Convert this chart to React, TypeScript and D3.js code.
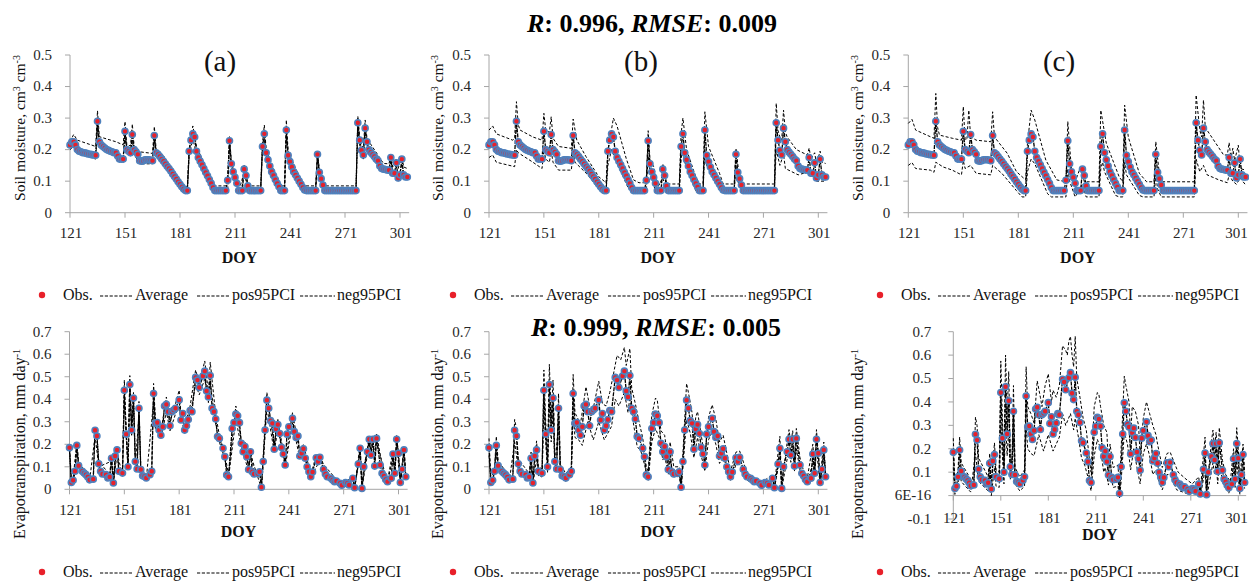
import React from 'react';
import * as d3 from 'd3';

type Pt = [number, number];

// ---------------- DATA ----------------
const START_DOY = 121;
const xTicks = [121, 151, 181, 211, 241, 271, 301];
const smTicks = [0, 0.1, 0.2, 0.3, 0.4, 0.5];
const smTickLabels = ['0', '0.1', '0.2', '0.3', '0.4', '0.5'];
const etTicks = [0, 0.1, 0.2, 0.3, 0.4, 0.5, 0.6, 0.7];
const etTickLabels = ['0', '0.1', '0.2', '0.3', '0.4', '0.5', '0.6', '0.7'];
const etTicksF = [-0.1, 0, 0.1, 0.2, 0.3, 0.4, 0.5, 0.6, 0.7];
const etTickLabelsF = ['-0.1', '6E-16', '0.1', '0.2', '0.3', '0.4', '0.5', '0.6', '0.7'];
const legendLabels = ['Obs.', 'Average', 'pos95PCI', 'neg95PCI'];
const panelLabels = ['(a)', '(b)', '(c)'];

// Observed soil moisture, DOY 121..305 (daily)
const smObs: number[] = [
  0.215, 0.225, 0.225, 0.215, 0.2, 0.195, 0.193, 0.19, 0.19, 0.188,
  0.186, 0.185, 0.184, 0.183, 0.182, 0.29, 0.225, 0.215, 0.21, 0.205,
  0.2, 0.198, 0.195, 0.193, 0.19, 0.19, 0.18, 0.17, 0.17, 0.17,
  0.258, 0.2, 0.195, 0.19, 0.248, 0.2, 0.193, 0.185, 0.165, 0.163,
  0.165, 0.168, 0.168, 0.168, 0.167, 0.165, 0.245, 0.19, 0.185, 0.178,
  0.17, 0.163, 0.155, 0.147, 0.14, 0.132, 0.123, 0.115, 0.107, 0.098,
  0.09, 0.082, 0.075, 0.07, 0.07, 0.195, 0.23, 0.25, 0.24, 0.195,
  0.175, 0.163, 0.152, 0.14, 0.128, 0.117, 0.105, 0.093, 0.08, 0.07,
  0.07, 0.07, 0.07, 0.07, 0.07, 0.07, 0.103, 0.228, 0.155, 0.13,
  0.112, 0.093, 0.07, 0.07, 0.07, 0.138, 0.118, 0.085, 0.07, 0.07,
  0.07, 0.07, 0.07, 0.07, 0.07, 0.21, 0.25, 0.19, 0.168, 0.148,
  0.13, 0.118, 0.105, 0.093, 0.082, 0.07, 0.07, 0.07, 0.262, 0.182,
  0.162, 0.145, 0.13, 0.12, 0.11, 0.1, 0.09, 0.08, 0.072, 0.07,
  0.07, 0.07, 0.07, 0.07, 0.07, 0.185, 0.128, 0.108, 0.088, 0.07,
  0.07, 0.07, 0.07, 0.07, 0.07, 0.07, 0.07, 0.07, 0.07, 0.07,
  0.07, 0.07, 0.07, 0.07, 0.07, 0.07, 0.07, 0.285, 0.23, 0.198,
  0.183, 0.268, 0.225, 0.2, 0.192, 0.185, 0.178, 0.17, 0.165, 0.148,
  0.14, 0.138, 0.137, 0.135, 0.135, 0.175, 0.125, 0.125, 0.158, 0.11,
  0.12, 0.17, 0.12, 0.113, 0.113,
];

const smPosA: Pt[] = [[121,.225],[123,.248],[125,.23],[135,.21],[136,.323],[137,.241],[146,.225],[150,.215],[151,.289],[152,.215],[154,.212],[155,.281],[156,.209],[159,.193],[166,.188],[167,.273],[168,.2],[172,.18],[181,.098],[184,.083],[185,.083],[186,.2],[188,.275],[190,.21],[199,.093],[200,.085],[206,.085],[207,.11],[208,.241],[209,.165],[212,.1],[213,.085],[215,.085],[216,.15],[217,.125],[218,.09],[219,.085],[225,.085],[226,.22],[227,.278],[228,.2],[235,.093],[236,.085],[238,.085],[239,.294],[240,.193],[248,.09],[249,.085],[255,.085],[256,.193],[257,.135],[259,.095],[260,.085],[277,.085],[278,.306],[279,.24],[280,.215],[281,.205],[282,.294],[283,.235],[292,.156],[295,.155],[296,.185],[297,.145],[299,.17],[300,.14],[302,.18],[303,.145],[305,.14]];
const smNegA: Pt[] = [[121,.2],[123,.21],[125,.19],[135,.17],[136,.27],[137,.21],[146,.18],[150,.16],[151,.24],[152,.19],[154,.18],[155,.23],[156,.185],[159,.155],[166,.155],[167,.23],[168,.18],[183,.068],[185,.068],[186,.18],[188,.235],[190,.185],[199,.068],[207,.068],[208,.21],[209,.145],[213,.068],[216,.128],[218,.075],[219,.068],[225,.068],[226,.2],[227,.235],[228,.18],[236,.068],[238,.068],[239,.245],[240,.17],[249,.068],[255,.068],[256,.175],[257,.12],[260,.068],[277,.068],[278,.265],[279,.215],[281,.17],[282,.25],[283,.21],[290,.135],[295,.125],[296,.16],[297,.115],[299,.145],[300,.1],[302,.155],[303,.11],[305,.105]];
const smPosB: Pt[] = [[121,.262],[123,.275],[125,.25],[134,.23],[135,.235],[136,.352],[137,.278],[138,.262],[145,.24],[150,.23],[151,.315],[152,.262],[154,.255],[155,.304],[156,.236],[159,.21],[166,.204],[167,.297],[169,.23],[174,.178],[181,.114],[185,.095],[186,.2],[187,.23],[189,.3],[191,.275],[196,.172],[200,.104],[203,.095],[207,.095],[208,.26],[209,.17],[211,.146],[213,.091],[215,.091],[216,.155],[217,.13],[218,.095],[219,.091],[225,.091],[226,.25],[227,.3],[229,.2],[234,.114],[236,.091],[238,.091],[239,.32],[241,.21],[247,.125],[249,.091],[255,.091],[256,.204],[258,.104],[260,.091],[277,.091],[278,.347],[279,.26],[280,.24],[281,.23],[282,.325],[283,.255],[284,.24],[289,.2],[295,.183],[296,.205],[297,.17],[299,.19],[300,.155],[302,.195],[303,.16],[305,.156]];
const smNegB: Pt[] = [[121,.175],[123,.183],[125,.16],[135,.146],[136,.2],[137,.19],[145,.16],[150,.14],[151,.2],[152,.17],[154,.16],[155,.195],[156,.16],[159,.135],[166,.135],[167,.19],[168,.16],[175,.12],[181,.075],[183,.068],[185,.068],[186,.15],[188,.2],[190,.17],[197,.08],[199,.068],[207,.068],[208,.18],[209,.13],[212,.068],[216,.11],[218,.068],[225,.068],[226,.17],[227,.2],[228,.16],[234,.07],[238,.068],[239,.2],[240,.15],[247,.075],[249,.068],[255,.068],[256,.15],[257,.1],[259,.068],[277,.068],[278,.2],[280,.15],[282,.185],[283,.14],[290,.12],[296,.13],[300,.1],[305,.1]];
const smPosC: Pt[] = [[121,.283],[123,.296],[125,.262],[133,.241],[135,.236],[136,.378],[137,.27],[138,.246],[145,.236],[150,.23],[151,.336],[152,.23],[153,.235],[154,.325],[155,.241],[158,.23],[166,.225],[167,.32],[168,.24],[175,.188],[180,.13],[185,.104],[186,.22],[188,.325],[190,.294],[196,.167],[202,.104],[207,.098],[208,.289],[210,.135],[212,.098],[215,.146],[217,.098],[225,.098],[226,.325],[229,.22],[236,.114],[238,.098],[239,.341],[241,.24],[247,.125],[251,.098],[255,.098],[256,.225],[258,.12],[260,.098],[277,.098],[278,.373],[280,.262],[281,.24],[282,.357],[283,.27],[293,.183],[295,.183],[296,.222],[297,.17],[298,.204],[299,.165],[301,.214],[302,.14],[305,.135]];
const smNegC: Pt[] = [[121,.15],[123,.159],[125,.14],[133,.135],[135,.128],[136,.16],[140,.145],[145,.135],[150,.12],[151,.165],[152,.14],[155,.15],[158,.125],[166,.12],[167,.15],[168,.145],[172,.125],[180,.07],[183,.05],[185,.05],[186,.13],[188,.17],[190,.155],[197,.06],[199,.05],[207,.05],[208,.14],[209,.1],[212,.05],[216,.09],[218,.05],[225,.05],[226,.14],[227,.16],[228,.13],[234,.055],[236,.05],[238,.05],[239,.16],[240,.12],[247,.055],[249,.05],[255,.05],[256,.12],[257,.075],[259,.05],[277,.05],[278,.17],[280,.13],[282,.15],[284,.12],[290,.105],[295,.095],[296,.12],[298,.1],[300,.09],[302,.11],[305,.088]];

// Observed evapotranspiration [DOY, value]
const etObs: Pt[] = [[121,.185],[122,.03],[123,.04],[124,.08],[125,.195],[126,.105],[128,.08],[129,.072],[130,.065],[131,.055],[132,.042],[134,.045],[135,.262],[136,.237],[137,.113],[138,.08],[139,.068],[141,.065],[142,.05],[143,.055],[144,.138],[145,.028],[146,.148],[147,.175],[148,.08],[150,.072],[151,.44],[152,.245],[153,.1],[154,.465],[155,.263],[156,.405],[157,.123],[158,.09],[159,.36],[160,.088],[161,.06],[162,.057],[163,.05],[165,.065],[166,.08],[167,.425],[168,.293],[169,.297],[170,.263],[171,.24],[172,.278],[173,.37],[174,.377],[175,.345],[176,.282],[177,.345],[178,.352],[179,.36],[181,.397],[182,.308],[183,.337],[184,.263],[185,.282],[186,.31],[187,.35],[188,.345],[190,.497],[191,.485],[192,.452],[194,.503],[195,.525],[196,.437],[197,.41],[198,.505],[199,.36],[200,.345],[201,.312],[202,.234],[203,.226],[205,.182],[206,.145],[207,.064],[208,.056],[210,.27],[211,.296],[212,.334],[213,.327],[214,.296],[215,.204],[216,.167],[217,.19],[218,.145],[219,.088],[220,.167],[221,.078],[222,.068],[224,.07],[225,.078],[226,.009],[227,.123],[228,.263],[229,.396],[230,.36],[231,.305],[232,.293],[233,.178],[234,.268],[235,.288],[236,.248],[237,.186],[238,.157],[239,.108],[240,.245],[241,.278],[243,.315],[244,.256],[245,.23],[246,.237],[247,.148],[248,.16],[249,.18],[250,.138],[251,.1],[252,.078],[253,.056],[254,.077],[256,.14],[257,.123],[258,.142],[260,.089],[261,.068],[262,.056],[264,.049],[265,.041],[266,.034],[267,.037],[269,.027],[270,.018],[272,.03],[273,.027],[274,.019],[276,.049],[277,.007],[279,.112],[280,.182],[281,.004],[282,.1],[284,.167],[285,.222],[286,.152],[287,.222],[288,.103],[289,.226],[291,.108],[292,.071],[293,.059],[294,.044],[295,.034],[297,.049],[298,.157],[299,.071],[300,.222],[301,.16],[302,.03],[303,.089],[304,.175],[305,.056]];

const etPosD: Pt[] = [[121,.2],[122,.04],[123,.05],[125,.21],[126,.12],[132,.05],[134,.055],[135,.275],[136,.25],[137,.125],[143,.065],[144,.15],[145,.035],[147,.19],[148,.09],[150,.08],[151,.485],[152,.27],[153,.11],[154,.505],[155,.29],[156,.43],[157,.135],[158,.1],[159,.39],[160,.1],[163,.06],[166,.09],[167,.47],[168,.31],[171,.255],[174,.41],[176,.3],[179,.38],[181,.44],[182,.33],[184,.28],[187,.37],[190,.53],[192,.47],[195,.57],[197,.43],[198,.565],[201,.33],[203,.24],[206,.155],[208,.065],[212,.37],[215,.215],[217,.21],[219,.095],[220,.18],[222,.075],[225,.085],[226,.015],[229,.43],[233,.19],[235,.31],[239,.115],[243,.34],[247,.16],[249,.2],[253,.065],[256,.15],[258,.155],[262,.06],[270,.025],[276,.055],[277,.01],[280,.2],[281,.01],[285,.24],[286,.17],[287,.235],[288,.115],[289,.245],[293,.065],[295,.04],[298,.17],[299,.08],[300,.24],[302,.04],[304,.19],[305,.06]];
const etNegD: Pt[] = [[121,.17],[122,.025],[124,.07],[125,.18],[126,.095],[132,.038],[135,.24],[137,.1],[144,.125],[145,.022],[147,.16],[150,.065],[151,.41],[153,.09],[154,.43],[155,.24],[156,.375],[157,.11],[159,.33],[160,.08],[163,.045],[167,.39],[168,.27],[171,.225],[174,.345],[176,.26],[179,.335],[181,.365],[184,.245],[187,.33],[190,.465],[192,.42],[195,.49],[197,.385],[198,.47],[201,.29],[203,.21],[206,.135],[208,.05],[212,.31],[215,.19],[219,.08],[220,.155],[226,.005],[229,.365],[233,.165],[235,.27],[239,.1],[243,.295],[247,.135],[249,.165],[253,.05],[258,.13],[270,.015],[277,.005],[280,.165],[281,.003],[285,.205],[286,.14],[289,.21],[295,.03],[298,.145],[299,.065],[300,.205],[302,.025],[304,.16],[305,.05]];
const etPosE: Pt[] = [[121,.226],[122,.045],[124,.09],[125,.235],[126,.125],[132,.06],[134,.06],[135,.31],[136,.27],[137,.135],[143,.07],[144,.165],[145,.045],[147,.215],[148,.1],[150,.09],[151,.53],[152,.3],[153,.13],[154,.555],[155,.32],[156,.485],[157,.15],[158,.11],[159,.425],[160,.11],[163,.07],[166,.1],[167,.51],[168,.34],[171,.29],[174,.455],[176,.37],[178,.36],[181,.48],[183,.38],[185,.37],[187,.43],[189,.51],[191,.595],[193,.575],[195,.63],[196,.55],[198,.625],[199,.45],[201,.38],[203,.3],[205,.23],[207,.1],[208,.08],[210,.33],[212,.405],[213,.395],[215,.26],[217,.24],[219,.12],[220,.21],[222,.1],[225,.1],[226,.02],[227,.16],[229,.47],[230,.43],[232,.34],[233,.22],[234,.32],[235,.345],[237,.24],[239,.14],[241,.32],[243,.375],[245,.31],[247,.21],[249,.24],[251,.16],[253,.08],[256,.165],[258,.17],[262,.075],[266,.05],[270,.03],[276,.065],[277,.015],[280,.235],[281,.015],[284,.21],[285,.265],[286,.2],[287,.26],[288,.14],[289,.27],[291,.14],[293,.08],[295,.05],[298,.2],[299,.1],[300,.265],[302,.05],[304,.21],[305,.07]];
const etNegE: Pt[] = [[121,.15],[122,.02],[124,.065],[125,.16],[126,.085],[132,.03],[135,.21],[137,.09],[143,.04],[144,.11],[145,.015],[147,.14],[148,.06],[150,.055],[151,.35],[153,.075],[154,.38],[155,.21],[156,.33],[157,.095],[159,.29],[160,.07],[163,.035],[166,.06],[167,.34],[168,.23],[170,.22],[172,.195],[175,.3],[178,.22],[181,.3],[184,.22],[186,.25],[188,.28],[190,.4],[192,.37],[195,.43],[197,.34],[198,.41],[200,.29],[202,.19],[204,.17],[206,.11],[208,.04],[210,.21],[212,.27],[214,.23],[216,.13],[217,.15],[219,.065],[220,.13],[222,.055],[225,.06],[226,.003],[227,.095],[229,.31],[231,.25],[233,.14],[235,.23],[237,.15],[239,.08],[241,.22],[243,.255],[245,.2],[247,.115],[249,.14],[251,.08],[253,.04],[256,.11],[258,.11],[262,.04],[270,.012],[276,.035],[277,.003],[280,.14],[281,.002],[285,.18],[286,.12],[287,.18],[288,.08],[289,.18],[291,.085],[295,.025],[298,.12],[299,.055],[300,.18],[302,.02],[304,.14],[305,.045]];
const etPosF: Pt[] = [[121,.245],[122,.05],[124,.11],[125,.25],[126,.14],[132,.07],[134,.07],[135,.335],[136,.3],[137,.16],[143,.08],[144,.18],[145,.05],[147,.225],[148,.11],[150,.1],[151,.575],[152,.33],[153,.15],[154,.6],[155,.35],[156,.53],[157,.17],[158,.13],[159,.47],[160,.12],[163,.08],[166,.11],[167,.55],[168,.38],[170,.35],[172,.31],[174,.49],[176,.42],[177,.38],[179,.47],[181,.52],[183,.4],[184,.45],[186,.42],[188,.47],[190,.64],[192,.62],[193,.6],[194,.66],[195,.68],[196,.6],[197,.55],[198,.68],[199,.5],[201,.42],[203,.33],[205,.28],[207,.15],[208,.1],[210,.38],[212,.44],[213,.43],[214,.38],[216,.3],[218,.27],[219,.13],[220,.22],[222,.12],[225,.13],[226,.03],[227,.2],[229,.51],[230,.47],[232,.4],[233,.25],[234,.38],[236,.36],[238,.3],[239,.17],[241,.33],[243,.4],[245,.35],[247,.3],[249,.26],[250,.22],[253,.12],[256,.18],[258,.185],[260,.15],[263,.1],[268,.07],[272,.05],[276,.08],[277,.02],[280,.25],[281,.02],[284,.23],[285,.28],[286,.2],[287,.27],[288,.15],[289,.29],[291,.15],[293,.09],[296,.06],[298,.2],[299,.12],[300,.29],[301,.2],[302,.05],[303,.15],[304,.22],[305,.1]];
const etNegF: Pt[] = [[121,.12],[122,.005],[124,.045],[125,.13],[126,.06],[132,.015],[135,.18],[137,.06],[143,.02],[144,.09],[145,0],[147,.12],[148,.04],[150,.035],[151,.3],[153,.05],[154,.32],[155,.17],[156,.28],[157,.07],[159,.24],[160,.05],[163,.02],[166,.04],[167,.3],[168,.2],[170,.18],[172,.17],[175,.26],[178,.19],[181,.26],[184,.19],[186,.22],[188,.25],[190,.35],[192,.3],[195,.35],[197,.28],[198,.33],[200,.25],[202,.16],[204,.13],[206,.08],[208,.02],[210,.17],[212,.24],[214,.2],[216,.1],[217,.12],[219,.045],[220,.1],[222,.035],[225,.04],[226,-0.01],[227,.06],[229,.27],[231,.22],[233,.11],[235,.2],[237,.12],[239,.05],[241,.18],[243,.22],[245,.17],[247,.09],[249,.11],[251,.06],[253,.025],[256,.09],[258,.09],[262,.025],[270,.005],[276,.02],[277,-0.005],[280,.11],[281,-0.01],[285,.14],[286,.09],[287,.14],[288,.05],[289,.15],[291,.06],[295,.01],[298,.1],[299,.035],[300,.15],[302,.005],[304,.12],[305,.03]];

// ---------------- LAYOUT ----------------
const FONT = '"Liberation Serif", "Times New Roman", "DejaVu Serif", serif';
const AXIS = '#a6a6a6';
const TXT = '#262626';
const DOT_FILL = '#e8202a';
const DOT_STROKE = '#4f81bd';
const W = 1249;
const fs = (size: number, extra: React.CSSProperties = {}): React.CSSProperties => ({ fontFamily: FONT, fontSize: size, ...extra });

const smPairs: Pt[] = smObs.map((v, i) => [START_DOY + i, v]);

interface PanelCfg {
  kind: 'sm' | 'et';
  x121: number; x301: number;
  yTop: number; yBot: number; yDom: [number, number];
  ticks: number[]; tickLabels: string[];
  obs: Pt[]; pos: Pt[]; neg: Pt[];
  titleX: number; titleY: number;
  tickLabelY: number; doyY: number; labelGap: number;
  tag?: string; tagX?: number;
}

const panels: PanelCfg[] = [
  { kind: 'sm', x121: 70, x301: 400, yTop: 55, yBot: 212.7, yDom: [0, 0.5], ticks: smTicks, tickLabels: smTickLabels, obs: smPairs, pos: smPosA, neg: smNegA, titleX: 20, titleY: 128, tickLabelY: 238, doyY: 262.5, labelGap: 18, tag: panelLabels[0], tagX: 220 },
  { kind: 'sm', x121: 489, x301: 818.3, yTop: 55, yBot: 212.7, yDom: [0, 0.5], ticks: smTicks, tickLabels: smTickLabels, obs: smPairs, pos: smPosB, neg: smNegB, titleX: 438, titleY: 128, tickLabelY: 238, doyY: 262.5, labelGap: 18, tag: panelLabels[1], tagX: 641 },
  { kind: 'sm', x121: 908.3, x301: 1238.3, yTop: 55, yBot: 212.7, yDom: [0, 0.5], ticks: smTicks, tickLabels: smTickLabels, obs: smPairs, pos: smPosC, neg: smNegC, titleX: 858, titleY: 128, tickLabelY: 238, doyY: 262.5, labelGap: 18, tag: panelLabels[2], tagX: 1059 },
  { kind: 'et', x121: 69.5, x301: 398.5, yTop: 331.7, yBot: 489.3, yDom: [0, 0.7], ticks: etTicks, tickLabels: etTickLabels, obs: etObs, pos: etPosD, neg: etNegD, titleX: 20, titleY: 444, tickLabelY: 515, doyY: 537, labelGap: 18 },
  { kind: 'et', x121: 489, x301: 818.3, yTop: 331.7, yBot: 489.3, yDom: [0, 0.7], ticks: etTicks, tickLabels: etTickLabels, obs: etObs, pos: etPosE, neg: etNegE, titleX: 438, titleY: 444, tickLabelY: 515, doyY: 537, labelGap: 18 },
  { kind: 'et', x121: 953.3, x301: 1238.3, yTop: 331.7, yBot: 519, yDom: [-0.1, 0.7], ticks: etTicksF, tickLabels: etTickLabelsF, obs: etObs, pos: etPosF, neg: etNegF, titleX: 858, titleY: 444, tickLabelY: 522.5, doyY: 540, labelGap: 22 },
];

function Panel({ p }: { p: PanelCfg }) {
  const x = d3.scaleLinear().domain([121, 301]).range([p.x121, p.x301]);
  const y = d3.scaleLinear().domain(p.yDom).range([p.yBot, p.yTop]);
  const line = d3.line<Pt>().x(d => x(d[0])).y(d => y(d[1]));
  const xAxisY = y(0);
  const xEnd = Math.min(x(306), W - 1);
  const yAxisBottom = y(p.yDom[0]);
  return (
    <g>
      <line x1={p.x121} x2={p.x121} y1={y(p.yDom[1])} y2={yAxisBottom} stroke={AXIS} strokeWidth={1} />
      {p.ticks.map((t, i) => (
        <g key={'yt' + i}>
          <line x1={p.x121 - 5} x2={p.x121} y1={y(t)} y2={y(t)} stroke={AXIS} strokeWidth={1} />
          <text x={p.x121 - p.labelGap} y={y(t) + 4.8} textAnchor="end" style={fs(15)} fill={TXT}>{p.tickLabels[i]}</text>
        </g>
      ))}
      <line x1={p.x121} x2={xEnd} y1={xAxisY} y2={xAxisY} stroke={AXIS} strokeWidth={1} />
      {xTicks.map(t => (
        <g key={'xt' + t}>
          <line x1={x(t)} x2={x(t)} y1={xAxisY} y2={xAxisY + 5} stroke={AXIS} strokeWidth={1} />
          <text x={Math.min(x(t) + 1, W - 12.5)} y={p.tickLabelY} textAnchor="middle" style={fs(15)} fill={TXT}>{t}</text>
        </g>
      ))}
      <text x={(p.x121 + x(306)) / 2} y={p.doyY} textAnchor="middle" style={fs(16, { fontWeight: 700 })} fill="#111">DOY</text>
      <g transform={`translate(${p.titleX},${p.titleY}) rotate(-90)`}>
        {p.kind === 'sm' ? (
          <text x={0} y={5} textAnchor="middle" style={fs(15.5)} fill="#111">
            Soil moisture, cm<tspan dy={-5} style={{ fontSize: 10 }}>3</tspan><tspan dy={5}> cm</tspan><tspan dy={-5} style={{ fontSize: 10 }}>-3</tspan>
          </text>
        ) : (
          <text x={0} y={5} textAnchor="middle" style={fs(16)} fill="#111">
            Evapotranspiration, mm day<tspan dy={-5} style={{ fontSize: 10 }}>-1</tspan>
          </text>
        )}
      </g>
      {p.tag && (
        <text x={p.tagX} y={71} textAnchor="middle" style={fs(29)} fill="#111">{p.tag}</text>
      )}
      <path d={line(p.pos) || ''} fill="none" stroke="#000" strokeWidth={1} strokeDasharray="3,2" />
      <path d={line(p.neg) || ''} fill="none" stroke="#000" strokeWidth={1} strokeDasharray="3,2" />
      <path d={line(p.obs) || ''} fill="none" stroke="#000" strokeWidth={1.3} strokeDasharray="4,1" />
      {p.obs.map((d, i) => (
        <circle key={'o' + i} cx={x(d[0])} cy={y(d[1])} r={3} fill={DOT_FILL} stroke={DOT_STROKE} strokeWidth={1.6} />
      ))}
    </g>
  );
}

function Legend({ x0, yc }: { x0: number; yc: number }) {
  const ty = yc + 5;
  const items = [
    { lx1: 100, lx2: 133, tx: 135 },
    { lx1: 197, lx2: 230, tx: 232 },
    { lx1: 300, lx2: 335, tx: 337 },
  ];
  return (
    <g transform={`translate(${x0},0)`}>
      <circle cx={42} cy={yc} r={3.2} fill={DOT_FILL} />
      <text x={63} y={ty} style={fs(16)} fill="#111">{legendLabels[0]}</text>
      {items.map((it, i) => (
        <g key={i}>
          <line x1={it.lx1} x2={it.lx2} y1={yc + 1} y2={yc + 1} stroke="#000" strokeWidth={1.2} strokeDasharray="3.2,1.6" />
          <text x={it.tx} y={ty} style={fs(16)} fill="#111">{legendLabels[i + 1]}</text>
        </g>
      ))}
    </g>
  );
}

export default function App() {
  return (
    <svg width={W} height={582} style={{ position: 'absolute', left: 0, top: 0, background: '#fff' }}>
      <rect x={0} y={0} width={W} height={582} fill="#fff" />
      <text x={652} y={32} textAnchor="middle" style={fs(26, { fontWeight: 700 })} fill="#000">
        <tspan style={{ fontStyle: 'italic' }}>R</tspan>: 0.996, <tspan style={{ fontStyle: 'italic' }}>RMSE</tspan>: 0.009
      </text>
      <text x={656} y={336} textAnchor="middle" style={fs(26, { fontWeight: 700 })} fill="#000">
        <tspan style={{ fontStyle: 'italic' }}>R</tspan>: 0.999, <tspan style={{ fontStyle: 'italic' }}>RMSE</tspan>: 0.005
      </text>
      {panels.map((p, i) => <Panel key={i} p={p} />)}
      {[0, 411, 838].map(o => <Legend key={'lt' + o} x0={o} yc={295} />)}
      {[0, 411, 838].map(o => <Legend key={'lb' + o} x0={o} yc={572} />)}
    </svg>
  );
}
